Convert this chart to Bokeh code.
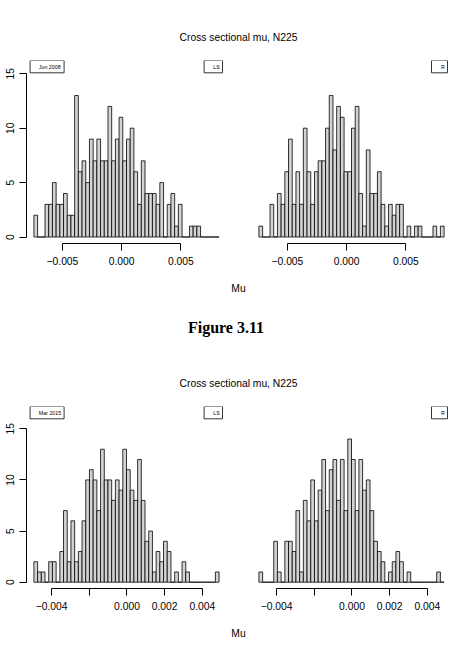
import numpy as np
from bokeh.plotting import figure
from bokeh.layouts import column, row
from bokeh.models import Range1d, FixedTicker
from bokeh.core.properties import value
from bokeh.embed import file_html
from bokeh.resources import INLINE

# ---------------- data ----------------
TITLE = "Cross sectional mu, N225"
X_LABEL = "Mu"
CAPTION = "Figure 3.11"
DATE_2008 = "Jun 2008"
DATE_2015 = "Mar 2015"
METHOD_LEFT = "LS"
METHOD_RIGHT = "R"

# Jun 2008: 50 equal bins shared by both panels
BIN_START_2008 = -0.007409
BIN_WIDTH_2008 = 0.0003127
COUNTS_LS_2008 = [2, 0, 0, 3, 3, 5, 3, 3, 4, 2,
                  2, 13, 6, 7, 5, 9, 7, 9, 7, 7,
                  12, 7, 9, 11, 7, 9, 10, 6, 3, 7,
                  4, 4, 4, 3, 5, 0, 3, 4, 1, 3,
                  0, 0, 1, 1, 1, 0, 0, 0, 0, 0]
COUNTS_R_2008 = [1, 0, 0, 3, 0, 4, 3, 6, 9, 3,
                 6, 3, 10, 6, 3, 6, 7, 7, 10, 13,
                 8, 12, 11, 6, 6, 10, 12, 4, 1, 8,
                 4, 4, 6, 3, 1, 3, 2, 3, 3, 0,
                 1, 0, 1, 1, 0, 0, 0, 1, 0, 1]
XTICKS_2008 = [-0.005, 0.0, 0.005]
XTICK_LABELS_2008 = ["\u22120.005", "0.000", "0.005"]

# Mar 2015: 50 equal bins shared by both panels
BIN_START_2015 = -0.004938
BIN_WIDTH_2015 = 0.0001965
COUNTS_LS_2015 = [2, 1, 1, 0, 2, 2, 0, 3, 7, 2,
                  6, 2, 3, 6, 10, 11, 10, 7, 13, 10,
                  10, 8, 10, 9, 13, 11, 9, 8, 12, 8,
                  4, 5, 1, 3, 2, 4, 3, 0, 1, 0,
                  2, 1, 0, 0, 0, 0, 0, 0, 0, 1]
COUNTS_R_2015 = [1, 0, 0, 0, 4, 1, 0, 4, 4, 3,
                 7, 1, 8, 6, 10, 6, 9, 12, 7, 11,
                 12, 8, 12, 7, 14, 12, 7, 12, 9, 10,
                 7, 4, 3, 2, 0, 1, 2, 3, 2, 0,
                 1, 0, 0, 0, 0, 0, 0, 0, 1, 0]
XTICKS_2015 = [-0.004, -0.002, 0.0, 0.002, 0.004]
XTICK_LABELS_2015 = ["\u22120.004", "", "0.000", "0.002", "0.004"]

YTICKS = [0, 5, 10, 15]

# ---------------- style ----------------
SANS = "Liberation Sans"
SERIF = "Liberation Serif"
FS = "10.3px"
BAR_FILL = "#d3d3d3"
FRAME_W = 200


def blank(width, height):
    p = figure(width=width, height=height, x_range=Range1d(0, width),
               y_range=Range1d(height, 0), output_backend="svg",
               toolbar_location=None, min_border=0)
    p.axis.visible = False
    p.grid.visible = False
    p.outline_line_color = None
    p.background_fill_color = "white"
    p.border_fill_color = "white"
    return p


def panel(counts, start, width, ylim, ticks, tick_labels, left, fig_w,
          b_left, b_right, b_top, fig_h, b_bottom, date_text, method):
    counts = np.array(counts, dtype=float)
    edges = start + width * np.arange(len(counts) + 1)
    lo, hi = edges[0], edges[-1]
    pad = 0.04 * (hi - lo)
    x0, x1 = lo - pad, hi + pad
    y0, y1 = ylim
    p = figure(width=fig_w, height=fig_h, x_range=Range1d(x0, x1),
               y_range=Range1d(y0, y1), output_backend="svg",
               toolbar_location=None, min_border_left=b_left,
               min_border_right=b_right, min_border_top=b_top,
               min_border_bottom=b_bottom,
               y_axis_location="left" if left else None)
    p.grid.visible = False
    p.outline_line_color = None
    p.background_fill_color = "white"
    p.border_fill_color = "white"

    p.quad(left=edges[:-1], right=edges[1:], bottom=0, top=counts,
           fill_color=BAR_FILL, line_color="black", line_width=0.8)

    xa = p.xaxis[0]
    xa.ticker = FixedTicker(ticks=ticks)
    xa.major_label_overrides = {t: l for t, l in zip(ticks, tick_labels)}
    xa.bounds = (ticks[0], ticks[-1])
    if left:
        ya = p.yaxis[0]
        ya.ticker = FixedTicker(ticks=YTICKS)
        ya.bounds = (YTICKS[0], YTICKS[-1])
        ya.major_label_orientation = "parallel"
        ya.major_label_standoff = 5
    for ax in p.axis:
        ax.axis_line_color = "black"
        ax.axis_line_width = 1
        ax.major_tick_line_color = "black"
        ax.major_tick_line_width = 1
        ax.major_tick_in = 0
        ax.major_tick_out = 7
        ax.minor_tick_line_color = None
        ax.major_label_text_font = SANS
        ax.major_label_text_font_size = FS
        ax.major_label_text_color = "black"
    xa.major_label_standoff = 6

    # legend-like boxes, positioned in frame pixels
    fh = fig_h - b_top - b_bottom
    sx = (x1 - x0) / FRAME_W
    sy = (y1 - y0) / fh
    boxes_l, boxes_r = [], []
    if date_text:
        boxes_l.append(x0 + 3.6 * sx)
        boxes_r.append(x0 + 37.6 * sx)
    bw = 18.4 if len(method) > 1 else 16.0
    boxes_l.append(x1 - (4 + bw) * sx)
    boxes_r.append(x1 - 4 * sx)
    p.quad(left=boxes_l, right=boxes_r, top=[y1] * len(boxes_l),
           bottom=[y1 - 12.3 * sy] * len(boxes_l), fill_color="white",
           line_color="black", line_width=0.8)
    if date_text:
        p.text(x=[x0 + 12.3 * sx], y=[y1 - 6.4 * sy], text=[date_text],
               text_font=value(SANS), text_font_size="5.3px",
               text_align="left", text_baseline="middle", text_color="black")
    p.text(x=[x1 - 6.7 * sx], y=[y1 - 6.4 * sy], text=[method],
           text_font=value(SANS), text_font_size="5.3px",
           text_align="right", text_baseline="middle", text_color="black")
    return p


def txt(p, x, y, s, font=SANS, size=FS, style="normal"):
    p.text(x=[x], y=[y], text=[s], text_font=value(font), text_font_size=size,
           text_font_style=style, text_align="center",
           text_baseline="middle", text_color="black")


# header of first figure
h1 = blank(457, 50)
txt(h1, 238, 37, TITLE)

YLIM_2008 = (-0.597, 16.22)
p1 = panel(COUNTS_LS_2008, BIN_START_2008, BIN_WIDTH_2008, YLIM_2008,
           XTICKS_2008, XTICK_LABELS_2008, True, 228, 26, 2, 10, 225, 32,
           DATE_2008, METHOD_LEFT)
p2 = panel(COUNTS_R_2008, BIN_START_2008, BIN_WIDTH_2008, YLIM_2008,
           XTICKS_2008, XTICK_LABELS_2008, False, 229, 23, 6, 10, 225, 32,
           None, METHOD_RIGHT)

mid = blank(457, 120)
txt(mid, 238, 12.7, X_LABEL)
txt(mid, 225.5, 51.7, CAPTION, font=SERIF, size="16px", style="bold")
txt(mid, 238, 108, TITLE)

YLIM_2015 = (-0.616, 17.18)
p3 = panel(COUNTS_LS_2015, BIN_START_2015, BIN_WIDTH_2015, YLIM_2015,
           XTICKS_2015, XTICK_LABELS_2015, True, 228, 26, 2, 11, 225, 32,
           DATE_2015, METHOD_LEFT)
p4 = panel(COUNTS_R_2015, BIN_START_2015, BIN_WIDTH_2015, YLIM_2015,
           XTICKS_2015, XTICK_LABELS_2015, False, 229, 23, 6, 11, 225, 32,
           None, METHOD_RIGHT)

foot = blank(457, 31)
txt(foot, 238, 12.7, X_LABEL)

layout = column(h1, row(p1, p2, spacing=0), mid, row(p3, p4, spacing=0),
                foot, spacing=0)

open("out.html", "w").write(file_html(layout, INLINE))
